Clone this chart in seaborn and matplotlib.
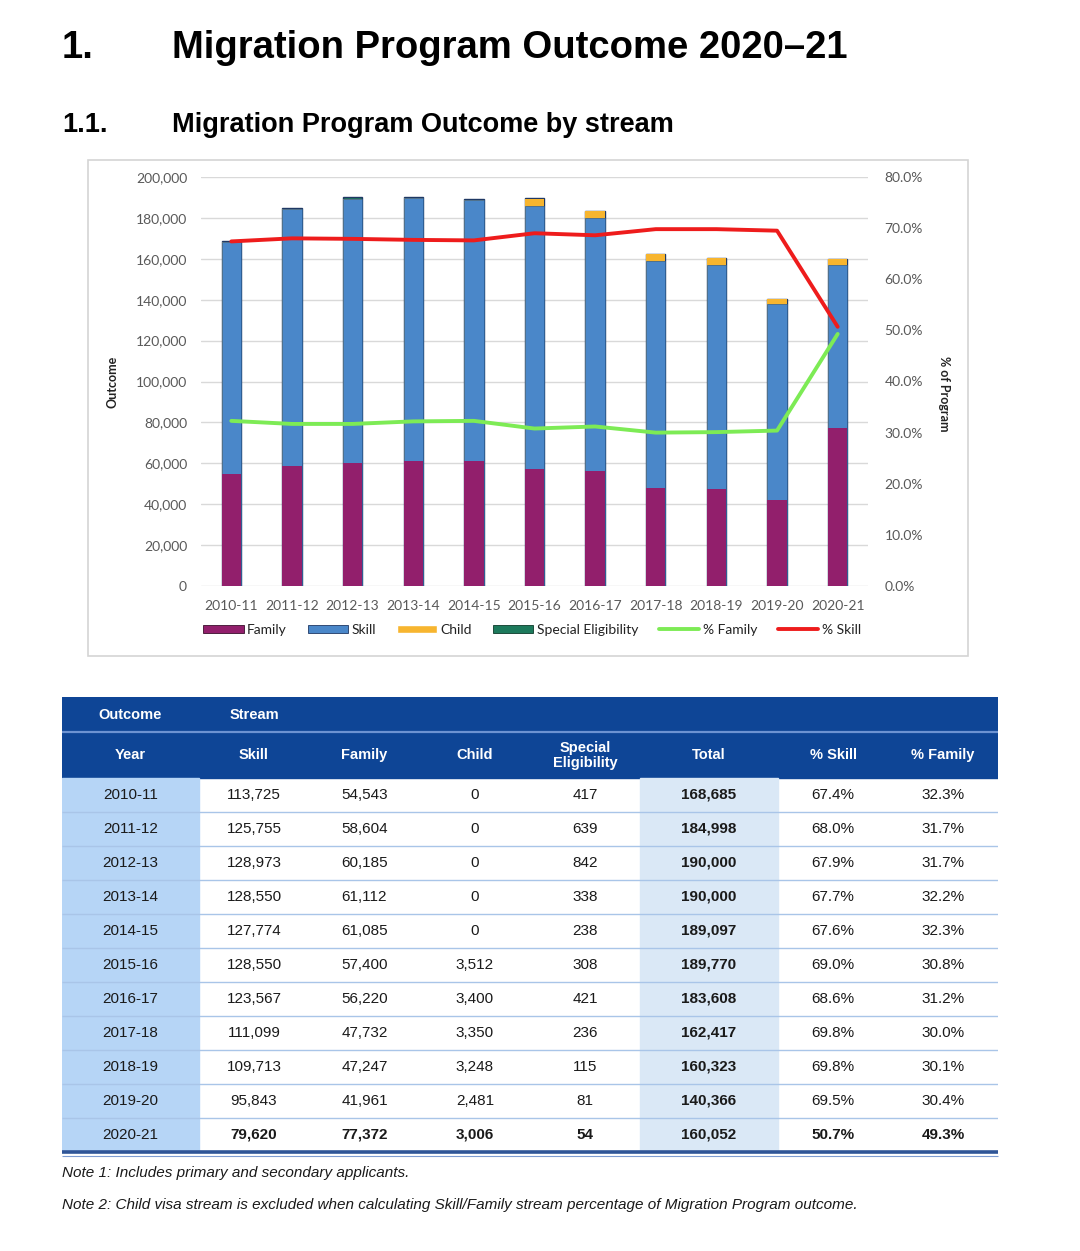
import numpy as np
import pandas as pd
import seaborn as sns
import matplotlib.pyplot as plt
from matplotlib.patches import Patch, Rectangle
from matplotlib.lines import Line2D
from matplotlib.ticker import FuncFormatter

# ---------- dados ----------
years = ['2010-11', '2011-12', '2012-13', '2013-14', '2014-15', '2015-16',
         '2016-17', '2017-18', '2018-19', '2019-20', '2020-21']
skill = [113725, 125755, 128973, 128550, 127774, 128550, 123567, 111099, 109713, 95843, 79620]
family = [54543, 58604, 60185, 61112, 61085, 57400, 56220, 47732, 47247, 41961, 77372]
child = [0, 0, 0, 0, 0, 3512, 3400, 3350, 3248, 2481, 3006]
special = [417, 639, 842, 338, 238, 308, 421, 236, 115, 81, 54]
total = [168685, 184998, 190000, 190000, 189097, 189770, 183608, 162417, 160323, 140366, 160052]
pct_skill = [67.4, 68.0, 67.9, 67.7, 67.6, 69.0, 68.6, 69.8, 69.8, 69.5, 50.7]
pct_family = [32.3, 31.7, 31.7, 32.2, 32.3, 30.8, 31.2, 30.0, 30.1, 30.4, 49.3]

df = pd.DataFrame({'year': years, 'skill': skill, 'family': family,
                   'child': child, 'special': special})
# cumulative stacks (family at the bottom)
df['s1'] = df['family']
df['s2'] = df['s1'] + df['skill']
df['s3'] = df['s2'] + df['child']
df['s4'] = df['s3'] + df['special']

C_FAMILY, C_SKILL, C_CHILD, C_SPECIAL = '#921F6C', '#4A87C9', '#F7B52F', '#1D7A5C'
C_PFAM, C_PSKILL = '#7DEB55', '#EE1C1C'

sns.set_theme(style='white')
plt.rcParams['font.family'] = ['Lato', 'DejaVu Sans']
ARIAL = ['Liberation Sans', 'DejaVu Sans']

W, H = 1080, 1251
fig = plt.figure(figsize=(10.8, 12.51), dpi=100)
fig.patch.set_facecolor('white')

def fx(x):
    return x / W

def fy(y):
    return 1 - y / H

# ---------- headings ----------
fig.text(fx(62), fy(48), '1.', fontsize=27.5, fontweight='bold', family=ARIAL,
         color='black', va='center')
fig.text(fx(172), fy(48), 'Migration Program Outcome 2020\u201321', fontsize=27.5,
         fontweight='bold', family=ARIAL, color='black', va='center')
fig.text(fx(62), fy(125), '1.1.', fontsize=19.5, fontweight='bold', family=ARIAL,
         color='black', va='center')
fig.text(fx(172), fy(125), 'Migration Program Outcome by stream', fontsize=19.5,
         fontweight='bold', family=ARIAL, color='black', va='center')

# chart frame
fig.patches.append(Rectangle((fx(88), fy(656)), fx(968) - fx(88), fy(160) - fy(656),
                             transform=fig.transFigure, fill=False, ec='#d4d4d4', lw=1.2))

# ---------- chart ----------
ax = fig.add_axes([fx(201), fy(586), (868 - 201) / W, (586 - 177) / H])
layers = [('s4', C_SPECIAL, '#1F3864', 1.0), ('s3', C_CHILD, 'none', 0),
          ('s2', C_SKILL, '#2E5F94', 0.5), ('s1', C_FAMILY, 'none', 0)]
for col, c, ec, lw in layers:
    sns.barplot(data=df, x='year', y=col, color=c, saturation=1, width=0.32,
                edgecolor=ec, linewidth=lw, ax=ax, zorder=2)

ax.set_xlim(-0.5, len(years) - 0.5)
ax.set_ylim(0, 200000)
ax.set_yticks(np.arange(0, 200001, 20000))
ax.yaxis.set_major_formatter(FuncFormatter(lambda v, p: f'{v:,.0f}'))
ax.yaxis.grid(True, color='#d9d9d9', lw=1)
ax.set_axisbelow(True)
ax.set_xlabel('')
ax.set_ylabel('Outcome', fontsize=9, fontweight='bold', color='#222222')
ax.yaxis.set_label_coords(-0.123, 0.5)
ax.tick_params(axis='y', colors='#595959', labelsize=10, length=0, pad=10)
ax.tick_params(axis='x', colors='#595959', labelsize=10, length=0, pad=10)
for s in ax.spines.values():
    s.set_visible(False)

ax2 = ax.twinx()
xpos = np.arange(len(years))
sns.lineplot(x=xpos, y=pct_family, color=C_PFAM, lw=2.8, ax=ax2)
sns.lineplot(x=xpos, y=pct_skill, color=C_PSKILL, lw=2.8, ax=ax2)
ax2.set_ylim(0, 80)
ax2.set_yticks(np.arange(0, 81, 10))
ax2.yaxis.set_major_formatter(FuncFormatter(lambda v, p: f'{v:.1f}%'))
ax2.tick_params(axis='y', colors='#595959', labelsize=10, length=0, pad=12)
ax2.set_ylabel('% of Program', fontsize=9, fontweight='bold', color='#222222', rotation=-90)
ax2.yaxis.set_label_coords(1.123, 0.47)
ax2.grid(False)
for s in ax2.spines.values():
    s.set_visible(False)

handles = [Patch(fc=C_FAMILY, ec='#3a0f2c', lw=0.6), Patch(fc=C_SKILL, ec='#1F3864', lw=0.6),
           Patch(fc=C_CHILD), Patch(fc=C_SPECIAL, ec='#0d3a2a', lw=0.6),
           Line2D([], [], color=C_PFAM, lw=2.8), Line2D([], [], color=C_PSKILL, lw=2.8)]
labels = ['Family', 'Skill', 'Child', 'Special Eligibility', '% Family', '% Skill']
fig.legend(handles, labels, ncol=6, loc='center', bbox_to_anchor=(fx(532), fy(630)),
           frameon=False, fontsize=10, handlelength=2.9, handleheight=0.55,
           columnspacing=1.5, handletextpad=0.25, labelcolor='#222222')

# ---------- table ----------
tax = fig.add_axes([fx(62), fy(1152), 936 / W, 455 / H])
tax.set_xlim(0, 936)
tax.set_ylim(11, -2.38)
tax.axis('off')

edges = [0, 137, 247, 358, 468, 578, 716, 826, 936]
centers = [(a + b) / 2 for a, b in zip(edges[:-1], edges[1:])]
nrow = len(years)

tax.add_patch(Rectangle((0, -2.38), 936, 2.38, color='#0E4596', zorder=1))
tax.add_patch(Rectangle((0, 0), edges[1], nrow, color='#B6D5F6', zorder=1))
tax.add_patch(Rectangle((edges[5], 0), edges[6] - edges[5], nrow, color='#DAE8F6', zorder=1))
tax.hlines(-1.35, 0, 936, color='#6D93D2', lw=1.6, zorder=2)
tax.hlines(np.arange(1, nrow), 0, 936, color='#A9C5E8', lw=1.0, zorder=2)
tax.hlines(nrow, 0, 936, color='#2F5597', lw=2.6, zorder=3, clip_on=False)
tax.hlines(nrow + 0.12, 0, 936, color='#7D9CD2', lw=0.8, zorder=3, clip_on=False)

hdr = dict(color='white', fontsize=10.5, fontweight='bold', family=ARIAL,
           ha='center', va='center', zorder=4)
tax.text(centers[0], -1.86, 'Outcome', **hdr)
tax.text(centers[1], -1.86, 'Stream', **hdr)
heads = ['Year', 'Skill', 'Family', 'Child', 'Special\nEligibility', 'Total', '% Skill', '% Family']
for cx, h in zip(centers, heads):
    tax.text(cx, -0.66, h, linespacing=1.15, **hdr)

for i in range(nrow):
    row = [years[i], f'{skill[i]:,}', f'{family[i]:,}', f'{child[i]:,}', f'{special[i]:,}',
           f'{total[i]:,}', f'{pct_skill[i]:.1f}%', f'{pct_family[i]:.1f}%']
    for j, (cx, t) in enumerate(zip(centers, row)):
        bold = (j == 5) or (i == nrow - 1 and j > 0)
        tax.text(cx, i + 0.5, t, fontsize=11, family=ARIAL, color='#1a1a1a',
                 fontweight='bold' if bold else 'normal', ha='center', va='center', zorder=4)

# ---------- notes ----------
fig.text(fx(62), fy(1173), 'Note 1: Includes primary and secondary applicants.',
         fontsize=11, style='italic', family=ARIAL, color='#1a1a1a', va='center')
fig.text(fx(62), fy(1205), 'Note 2: Child visa stream is excluded when calculating Skill/Family '
         'stream percentage of Migration Program outcome.',
         fontsize=11, style='italic', family=ARIAL, color='#1a1a1a', va='center')

fig.savefig('out.png', dpi=100, facecolor='white')
